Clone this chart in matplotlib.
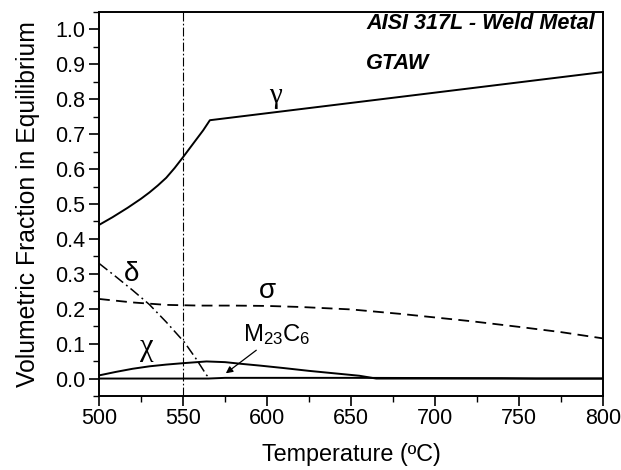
import matplotlib
matplotlib.use("Agg")
import matplotlib.pyplot as plt
from matplotlib.ticker import MultipleLocator

plt.rcParams['font.family'] = ['Liberation Sans', 'DejaVu Sans']
plt.rcParams['mathtext.fontset'] = 'custom'
plt.rcParams['mathtext.rm'] = 'Liberation Sans'
plt.rcParams['mathtext.it'] = 'Liberation Sans:italic'

# ---- data ----
T_gamma = [500, 508, 517, 525, 530, 535, 540, 545, 550, 557, 562, 566, 800]
gamma = [0.44, 0.462, 0.489, 0.515, 0.533, 0.553, 0.575, 0.603, 0.634, 0.679, 0.711, 0.74, 0.878]

T_sigma = [500, 520, 540, 560, 580, 600, 620, 650, 680, 700, 722, 750, 775, 800]
sigma = [0.228, 0.218, 0.211, 0.209, 0.209, 0.208, 0.205, 0.198, 0.185, 0.175, 0.164, 0.148, 0.133, 0.115]

T_delta = [500, 510, 520, 530, 540, 551, 558, 564, 566]
delta = [0.33, 0.292, 0.253, 0.212, 0.162, 0.103, 0.055, 0.01, 0.0]

T_chi = [500, 510, 520, 530, 540, 550, 564, 575, 585, 596, 610, 625, 640, 655, 665, 800]
chi = [0.009, 0.019, 0.028, 0.035, 0.040, 0.044, 0.049, 0.047, 0.042, 0.037, 0.030, 0.022, 0.015, 0.008, 0.0, 0.0]

T_m23 = [500, 565, 575, 650, 740, 760, 800]
m23c6 = [0.0, 0.0, 0.002, 0.002, 0.001, 0.0, 0.0]

ref_T = 550

xticks = [500, 550, 600, 650, 700, 750, 800]
yticks = [0.0, 0.1, 0.2, 0.3, 0.4, 0.5, 0.6, 0.7, 0.8, 0.9, 1.0]

# ---- figure ----
fig = plt.figure(figsize=(6.21, 4.70), dpi=100)
ax = fig.add_axes([99/621, 1 - 396/470, (603-99)/621, (396-12)/470])

ax.plot(T_gamma, gamma, color='black', lw=1.4)
ax.plot(T_sigma, sigma, color='black', lw=1.3, linestyle=(0, (6, 3.5)))
ax.plot(T_delta, delta, color='black', lw=1.1, linestyle=(0, (7, 2.5, 1.2, 2.5)))
ax.plot(T_chi, chi, color='black', lw=1.4)
ax.plot(T_m23, m23c6, color='black', lw=1.4)
ax.axvline(ref_T, color='black', lw=0.8, linestyle=(0, (8, 2, 1.5, 2)))

ax.set_xlim(500, 800)
ax.set_ylim(-0.05, 1.05)
ax.set_xticks(xticks)
ax.set_yticks(yticks)
ax.set_xticklabels([str(v) for v in xticks])
ax.set_yticklabels([f"{v:.1f}" for v in yticks])
ax.xaxis.set_minor_locator(MultipleLocator(25))
ax.yaxis.set_minor_locator(MultipleLocator(0.05))
ax.tick_params(which='major', direction='out', length=7, width=1.2, labelsize=15.5,
               top=False, right=False)
ax.tick_params(axis='x', which='major', pad=2)
ax.tick_params(axis='y', which='major', pad=3)
ax.tick_params(which='minor', direction='out', length=4, width=1.0, top=False, right=False)
for s in ax.spines.values():
    s.set_linewidth(1.4)

ax.set_xlabel('Temperature (ºC)', fontsize=16.8, labelpad=10)
ax.set_ylabel('Volumetric Fraction in Equilibrium', fontsize=17.8, labelpad=11)

ax.text(659, 1.017, 'AISI 317L - Weld Metal', fontsize=15.6, fontweight='bold',
        fontstyle='italic', ha='left', va='center')
ax.text(659, 0.903, 'GTAW', fontsize=15.6, fontweight='bold', fontstyle='italic',
        ha='left', va='center')

ax.text(605, 0.81, 'γ', fontsize=21, ha='center', va='center', family=['Liberation Serif', 'DejaVu Serif'])
ax.text(600, 0.25, 'σ', fontsize=20, ha='center', va='center')
ax.text(519.5, 0.30, 'δ', fontsize=20, ha='center', va='center')
ax.text(528.5, 0.089, 'χ', fontsize=22, ha='center', va='center', family=['Liberation Serif', 'DejaVu Serif'])

ax.annotate(r'M$_{23}$C$_6$', xy=(575.5, 0.015), xytext=(585.5, 0.106),
            fontsize=17.2, ha='left', va='baseline',
            arrowprops=dict(arrowstyle='-|>', color='black', lw=0.9,
                            mutation_scale=10, shrinkA=0, shrinkB=0))

fig.savefig('out.png', dpi=100)
